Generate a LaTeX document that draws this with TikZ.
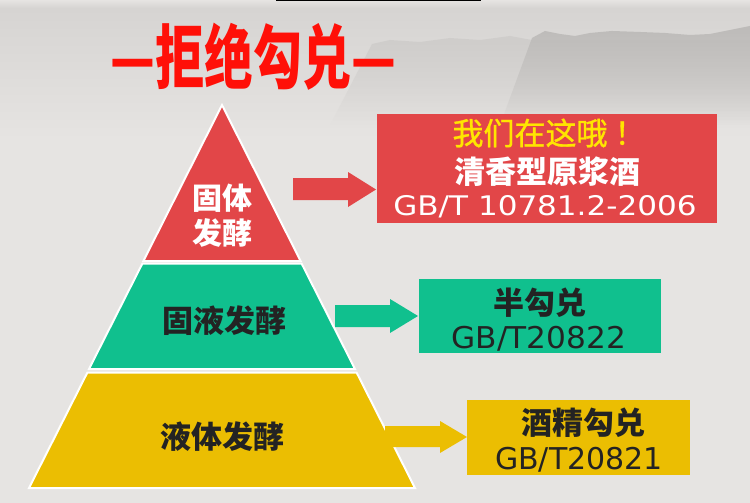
\documentclass[tikz,border=0pt]{standalone}
\usepackage{fontspec}
\newfontfamily\cjk{Noto Sans CJK SC}
\newfontfamily\cjkm[FakeBold=1]{Noto Sans CJK SC}
\newfontfamily\latn{DejaVu Sans}
\usetikzlibrary{calc,fadings}
\tikzfading[name=fadedown, top color=transparent!0, bottom color=transparent!100]
\definecolor{bgbase}{HTML}{E6E4E2}
\definecolor{bgdark}{HTML}{D6D4D2}
\definecolor{mount}{HTML}{BDBBB9}
\definecolor{mountl}{HTML}{CFCDCB}
\definecolor{titlered}{HTML}{FF1008}
\definecolor{redc}{HTML}{E24648}
\definecolor{greenc}{HTML}{10C08E}
\definecolor{yellowc}{HTML}{EBBE02}
\definecolor{inky}{HTML}{FFE500}
\definecolor{darktxt}{HTML}{232323}
\begin{document}
\begin{tikzpicture}[x=1pt,y=-1pt,
  pyr/.style={draw=white, line width=2pt, line join=miter},
  box/.style={rectangle, inner sep=0pt, anchor=north west},
  lbl/.style={inner sep=0pt, anchor=center},
  cjkbold/.style={font=\fontsize{#1}{#1}\cjk\bfseries},
  gbtxt/.style={inner sep=0pt, text depth=0pt, anchor=center}]
% background
\useasboundingbox (0,0) rectangle (750,503);
\fill[bgbase] (0,0) rectangle (750,503);
\shade[top color=bgdark, bottom color=bgbase] (0,8) rectangle (750,140);
\shade[top color=bgbase, bottom color=bgdark] (0,0) rectangle (750,8);
\fill[mountl, path fading=fadedown]
  (330,125) -- (372,44) -- (390,40) -- (420,42) -- (450,38) -- (480,40) -- (510,36)
  -- (532,40) -- (750,40) -- (750,125) -- cycle;
\fill[mount, path fading=fadedown]
  (500,125) -- (532,38) -- (545,31) -- (560,34) -- (575,36) -- (590,33) -- (612,31) -- (640,32)
  -- (665,33) -- (690,35) -- (710,34) -- (730,30) -- (750,26) -- (750,125) -- cycle;
% top black bar
\fill[black] (276,0) rectangle (481,1.5);
% title
\node[lbl, text=titlered] (title) at (253,57)
  {\scalebox{0.7}[1]{\fontsize{70}{70}\cjk\bfseries —拒绝勾兑—}};
% pyramid
\fill[redc, pyr] (222,105) -- (300.6,261) -- (143.4,261) -- cycle;
\fill[greenc, pyr] (142.4,263.5) -- (301.6,263.5) -- (355,369) -- (89,369) -- cycle;
\fill[yellowc, pyr] (87.4,372.5) -- (356.6,372.5) -- (415,488) -- (29,488) -- cycle;
\node[lbl, align=center, text=white, cjkbold=30] (solid) at (222,216) {固体\\[5pt]发酵};
\node[lbl, text=darktxt, cjkbold=31] (semisolid) at (224,321) {固液发酵};
\node[lbl, text=darktxt, cjkbold=31] (liquid) at (222,437) {液体发酵};
% boxes
\node[box, fill=redc, minimum width=340pt, minimum height=109pt] (rbox) at (377,114) {};
\node[box, fill=greenc, minimum width=242pt, minimum height=74pt] (gbox) at (419,279) {};
\node[box, fill=yellowc, minimum width=223pt, minimum height=75pt] (ybox) at (467,400) {};
% arrows
\fill[redc] (293,178) -- (348,178) -- (348,172) -- (376,189.5) -- (348,207) -- (348,200) -- (293,200) -- cycle;
\fill[greenc] (335,305) -- (390,305) -- (390,299) -- (418,316) -- (390,333) -- (390,327) -- (335,327) -- cycle;
\fill[yellowc] (385,426) -- (440,426) -- (440,421) -- (467,437) -- (440,453) -- (440,447) -- (385,447) -- cycle;
% red box texts
\node[lbl, text=inky, font=\fontsize{31}{31}\cjkm] (here) at (549,133) {我们在这哦\hspace{7pt}！};
\node[lbl, text=white, cjkbold=31] (qx) at (547,172) {清香型原浆酒};
\node[gbtxt, text=white] (gb1) at (545,205)
  {\scalebox{1.15}[1]{\fontsize{27}{27}\latn GB/T 10781.2-2006}};
% green box texts
\node[lbl, text=darktxt, cjkbold=31] (bgd) at (540,303) {半勾兑};
\node[gbtxt, text=darktxt] (gb2) at (539,337)
  {\scalebox{1.04}[1]{\fontsize{30}{30}\latn GB/T20822}};
% yellow box texts
\node[lbl, text=darktxt, cjkbold=31] (jjgd) at (583,423) {酒精勾兑};
\node[gbtxt, text=darktxt] (gb3) at (579,458)
  {\scalebox{1.0}[1]{\fontsize{30}{30}\latn GB/T20821}};
\end{tikzpicture}
\end{document}
